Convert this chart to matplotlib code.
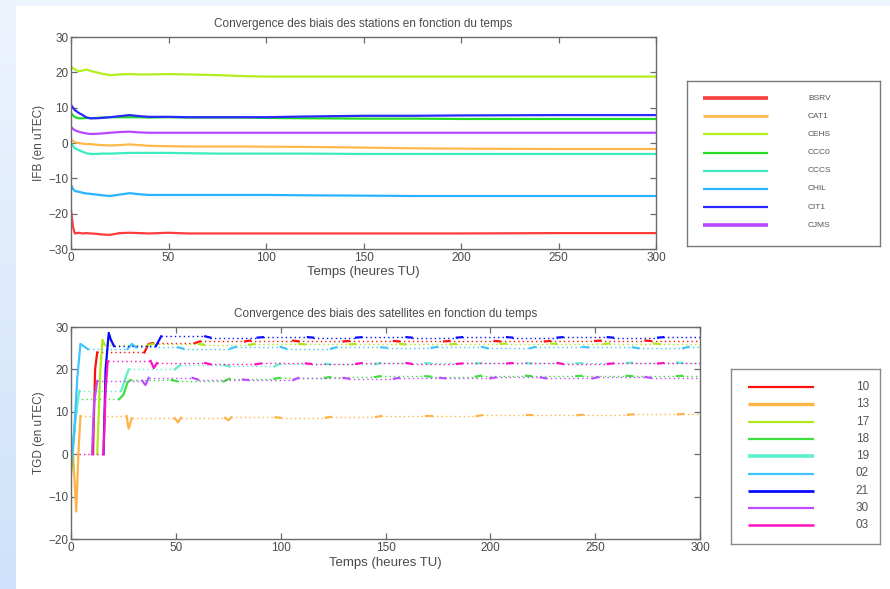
import matplotlib
matplotlib.use("Agg")
import matplotlib.pyplot as plt
import numpy as np

plt.rcParams['font.family'] = ['Liberation Sans', 'DejaVu Sans']

# --- station biases (IFB, en uTEC) ---
t_sta = [0, 1, 2, 4, 6, 8, 10, 13, 16, 20, 25, 30, 35, 40, 50, 60, 75, 90, 100, 120, 150, 175, 200, 250, 300]
stations = ['BSRV', 'CAT1', 'CEHS', 'CCC0', 'CCCS', 'CHIL', 'CIT1', 'CJMS']
sta_colors = ['#ff3c3c', '#ffb84a', '#b4ee1e', '#22dd22', '#3cecc0', '#28b4ff', '#2a2aff', '#b848ff']
sta_legend_lw = [2.6, 2.0, 1.6, 1.6, 1.6, 1.6, 1.6, 2.6]
ifb = {
    'BSRV': [-19, -23.7, -25.6, -25.4, -25.6, -25.5, -25.6, -25.7, -25.9, -26.0, -25.5, -25.4, -25.5, -25.6, -25.4, -25.6, -25.6, -25.6, -25.6, -25.6, -25.6, -25.6, -25.6, -25.5, -25.5],
    'CAT1': [1.0, 0.6, 0.2, 0.0, -0.2, -0.3, -0.3, -0.5, -0.6, -0.7, -0.6, -0.4, -0.6, -0.8, -0.9, -1.0, -1.0, -1.0, -1.05, -1.1, -1.3, -1.5, -1.6, -1.7, -1.7],
    'CEHS': [21.6, 21.2, 20.8, 20.3, 20.5, 20.8, 20.4, 20.0, 19.6, 19.2, 19.4, 19.5, 19.4, 19.4, 19.5, 19.4, 19.2, 18.9, 18.8, 18.8, 18.8, 18.8, 18.8, 18.8, 18.8],
    'CCC0': [8.5, 7.8, 7.3, 7.0, 7.0, 7.1, 7.0, 7.1, 7.2, 7.3, 7.3, 7.3, 7.3, 7.2, 7.3, 7.2, 7.2, 7.2, 7.1, 7.0, 6.9, 6.9, 6.8, 6.8, 6.8],
    'CCCS': [0.0, -0.8, -1.5, -2.0, -2.5, -2.9, -3.1, -3.1, -3.0, -3.0, -2.9, -2.8, -2.8, -2.8, -2.8, -2.9, -3.0, -3.0, -3.0, -3.0, -3.1, -3.1, -3.1, -3.1, -3.1],
    'CHIL': [-11.9, -13.0, -13.6, -13.8, -14.1, -14.3, -14.4, -14.6, -14.8, -15.0, -14.6, -14.2, -14.5, -14.7, -14.7, -14.7, -14.7, -14.7, -14.7, -14.8, -14.9, -15.0, -15.0, -15.0, -15.0],
    'CIT1': [10.8, 10.0, 9.3, 8.5, 7.9, 7.2, 7.0, 7.0, 7.1, 7.3, 7.6, 7.9, 7.6, 7.4, 7.4, 7.3, 7.3, 7.3, 7.3, 7.5, 7.7, 7.7, 7.8, 7.9, 7.9],
    'CJMS': [4.6, 4.0, 3.6, 3.2, 2.9, 2.7, 2.55, 2.6, 2.7, 2.9, 3.1, 3.2, 3.0, 2.9, 2.9, 2.9, 2.9, 2.9, 2.9, 2.9, 2.9, 2.9, 2.9, 2.9, 2.9],
}

# --- satellite biases (TGD, en uTEC): observed points, gaps > 3 h are dotted ---
satellites = ['10', '13', '17', '18', '19', '02', '21', '30', '03']
sat_colors = ['#ff1010', '#ffb347', '#aee81a', '#3ee03e', '#5cf0cc', '#40c4ff', '#0a0aff', '#c04cff', '#ff10c0']
sat_legend_lw = [1.6, 2.4, 1.6, 1.6, 2.6, 1.6, 2.0, 1.6, 1.8]
tgd_t = {
    '10': [10.5, 11.5, 12.5, 35, 37, 39, 59, 61.5, 83, 85.5, 106, 108.5, 130, 132.5, 154, 156.5, 178, 180.5, 202, 204.5, 226, 228.5, 250, 252.5, 274, 276.5, 300],
    '13': [1, 2.5, 3.5, 4.5, 26.5, 27.5, 29, 49.5, 51, 52.5, 73.5, 75, 76.5, 97.5, 100, 121.5, 124, 145.5, 148, 169.5, 172, 193.5, 196, 217.5, 220, 241.5, 244, 265.5, 268, 289.5, 292, 300],
    '17': [12.5, 14, 15, 16, 37, 39.5, 61, 63.5, 85, 87.5, 109, 111.5, 133, 135.5, 157, 159.5, 181, 183.5, 205, 207.5, 229, 231.5, 254, 256.5, 278, 280.5, 300],
    '18': [0, 1.5, 3, 23, 25, 27, 28.5, 48, 50.5, 73, 75.5, 97, 99.5, 121, 123.5, 145, 147.5, 169, 171.5, 193, 195.5, 217, 219.5, 241, 243.5, 265, 267.5, 289, 291.5, 300],
    '19': [0.5, 2, 4, 24, 26, 27.5, 49.5, 52, 73, 75.5, 97, 99.5, 121, 123.5, 145, 147.5, 169, 171.5, 193, 195.5, 217, 219.5, 241, 243.5, 265, 267.5, 289, 291.5, 300],
    '02': [0, 1.5, 3, 4.5, 6, 8, 27, 29, 31, 51, 53.5, 76, 78.5, 100, 102.5, 124, 126.5, 148, 150.5, 172, 174.5, 196, 198.5, 219, 221.5, 244, 246.5, 268, 270.5, 292, 294.5, 300],
    '21': [15.5, 16.5, 18, 19, 20.5, 40.5, 43, 64, 66.5, 89, 91.5, 113, 115.5, 136, 138.5, 160, 162.5, 184, 186.5, 208, 210.5, 232, 234.5, 256, 258.5, 280, 282.5, 300],
    '30': [10, 11, 12.5, 34, 35.5, 37, 58, 60.5, 82, 84.5, 106, 108.5, 130, 132.5, 154, 156.5, 176, 178.5, 200, 202.5, 224, 226.5, 249, 251.5, 274, 276.5, 300],
    '03': [4, 15.5, 16.5, 17.5, 38, 39.5, 41, 64, 66.5, 88, 90.5, 112, 114.5, 136, 138.5, 160, 162.5, 184, 186.5, 208, 210.5, 232, 234.5, 256, 258.5, 280, 282.5, 300],
}
tgd_v = {
    '10': [0, 20, 24, 24, 26, 26.2, 26.2, 26.6, 26.6, 26.8, 26.8, 26.6, 26.6, 26.7, 26.7, 26.6, 26.6, 26.7, 26.7, 26.6, 26.6, 26.7, 26.7, 26.8, 26.8, 26.7, 26.7],
    '13': [0, -13.5, 0, 9, 9, 6, 8.5, 8.5, 7.5, 8.6, 8.6, 8.0, 8.7, 8.7, 8.6, 8.6, 8.8, 8.8, 9.0, 9.0, 9.0, 9.0, 9.2, 9.2, 9.2, 9.2, 9.3, 9.3, 9.4, 9.4, 9.5, 9.5],
    '17': [0, 20, 27, 25.8, 25.8, 26.0, 26.0, 25.8, 25.8, 26.0, 26.0, 25.9, 25.9, 26.0, 26.0, 25.9, 25.9, 26.0, 26.0, 26.1, 26.1, 26.0, 26.0, 26.1, 26.1, 26.0, 26.0],
    '18': [-5, 5, 13, 13, 14, 17, 17.5, 17.5, 17.2, 17.2, 17.8, 17.8, 18.0, 18.0, 18.2, 18.2, 18.4, 18.4, 18.3, 18.3, 18.5, 18.5, 18.4, 18.4, 18.5, 18.5, 18.4, 18.4, 18.5, 18.5],
    '19': [0, 8, 15, 15, 18, 20, 20, 21, 21, 20.7, 20.7, 21.3, 21.3, 21.2, 21.2, 21.5, 21.5, 21.4, 21.4, 21.5, 21.5, 21.4, 21.4, 21.5, 21.5, 21.6, 21.6, 21.5, 21.5],
    '02': [-3, 5, 18, 26, 25.5, 24.8, 24.8, 26, 25.2, 25.2, 24.9, 24.9, 25.3, 25.3, 24.9, 24.9, 25.2, 25.2, 25.1, 25.1, 25.3, 25.3, 25.0, 25.0, 25.3, 25.3, 25.2, 25.2, 25.0, 25.0, 25.3, 25.3],
    '21': [0, 20, 28.6, 27, 25.5, 25.5, 27.8, 27.8, 27.5, 27.5, 27.6, 27.6, 27.5, 27.5, 27.6, 27.6, 27.5, 27.5, 27.6, 27.6, 27.5, 27.5, 27.6, 27.6, 27.5, 27.5, 27.6, 27.6],
    '30': [0, 12, 17.3, 17.3, 16.3, 18.0, 18.0, 17.6, 17.6, 17.5, 17.5, 18.0, 18.0, 17.8, 17.8, 18.0, 18.0, 17.9, 17.9, 18.1, 18.1, 17.9, 17.9, 18.2, 18.2, 18.0, 18.0],
    '03': [0, 0, 15, 22, 22, 20.3, 21.5, 21.5, 21.2, 21.2, 21.4, 21.4, 21.3, 21.3, 21.5, 21.5, 21.3, 21.3, 21.4, 21.4, 21.5, 21.5, 21.3, 21.3, 21.4, 21.4, 21.5, 21.5],
}

W, H = 890, 589
fig = plt.figure(figsize=(W / 100, H / 100), dpi=100)
fig.patch.set_facecolor('white')

# light blue slide background (left strip + top strip)
bg = fig.add_axes([0, 0, 16 / W, 1])
grad = np.linspace(0, 1, 256).reshape(-1, 1)
bg.imshow(grad, aspect='auto', cmap=matplotlib.colors.LinearSegmentedColormap.from_list('bg', ['#eef4fe', '#cde2fa']))
bg.axis('off')
top = fig.add_axes([16 / W, 1 - 6 / H, 1 - 16 / W, 6 / H])
top.axis('off')
top.add_patch(plt.Rectangle((0, 0), 1, 1, color='#eef4fe', transform=top.transAxes))

TXT = '#4a4a4a'


def style_axes(ax):
    for s in ax.spines.values():
        s.set_color('#6a6a6a')
        s.set_linewidth(1.0)
    ax.tick_params(direction='in', length=4, width=0.9, colors='#6a6a6a',
                   labelcolor=TXT, labelsize=8.5, top=True, right=True, pad=2)


def fig_box(x0, y0, x1, y1):
    return [x0 / W, 1 - y1 / H, (x1 - x0) / W, (y1 - y0) / H]


# ---------------- top: stations ----------------
ax1 = fig.add_axes(fig_box(71, 37, 656, 249))
for name, c in zip(stations, sta_colors):
    ax1.plot(t_sta, ifb[name], color=c, lw=1.6)
ax1.set_xlim(0, 300)
ax1.set_ylim(-30, 30)
ax1.set_xticks(range(0, 301, 50))
ax1.set_yticks(range(-30, 31, 10))
style_axes(ax1)
ax1.set_title('Convergence des biais des stations en fonction du temps', fontsize=8.5, color=TXT, pad=7)
ax1.set_xlabel('Temps (heures TU)', fontsize=9.5, color=TXT, labelpad=1.5)
ax1.set_ylabel('IFB (en uTEC)', fontsize=8.5, color=TXT, labelpad=2)

leg1 = fig.add_axes(fig_box(687, 81, 880, 246))
leg1.set_xlim(687, 880)
leg1.set_ylim(246, 81)
leg1.set_xticks([])
leg1.set_yticks([])
for s in leg1.spines.values():
    s.set_color('#7a7a7a')
    s.set_linewidth(1.0)
for i, (name, c, lw) in enumerate(zip(stations, sta_colors, sta_legend_lw)):
    y = 98 + i * 18.2
    leg1.plot([703, 768], [y, y], color=c, lw=lw, solid_capstyle='butt')
    leg1.text(808, y, name, fontsize=6, color='#555555', va='center', ha='left')

# ---------------- bottom: satellites ----------------
ax2 = fig.add_axes(fig_box(71, 327, 700, 539))
for name, c in zip(satellites, sat_colors):
    t = tgd_t[name]
    v = tgd_v[name]
    runs = [[0]]
    for k in range(1, len(t)):
        if t[k] - t[k - 1] > 3:
            runs.append([k])
        else:
            runs[-1].append(k)
    for r in runs:
        if len(r) > 1:
            ax2.plot([t[k] for k in r], [v[k] for k in r], color=c, lw=1.6)
    for a, b in zip(runs[:-1], runs[1:]):
        ax2.plot([t[a[-1]], t[b[0]]], [v[a[-1]], v[b[0]]], color=c, lw=1.0,
                 ls=(0, (1, 2.2)))
ax2.set_xlim(0, 300)
ax2.set_ylim(-20, 30)
ax2.set_xticks(range(0, 301, 50))
ax2.set_yticks(range(-20, 31, 10))
style_axes(ax2)
ax2.set_title('Convergence des biais des satellites en fonction du temps', fontsize=8.5, color=TXT, pad=7)
ax2.set_xlabel('Temps (heures TU)', fontsize=9.5, color=TXT, labelpad=2.5)
ax2.set_ylabel('TGD (en uTEC)', fontsize=8.5, color=TXT, labelpad=2)

leg2 = fig.add_axes(fig_box(731, 369, 880, 544))
leg2.set_xlim(731, 880)
leg2.set_ylim(544, 369)
leg2.set_xticks([])
leg2.set_yticks([])
for s in leg2.spines.values():
    s.set_color('#8a8a8a')
    s.set_linewidth(1.0)
for i, (name, c, lw) in enumerate(zip(satellites, sat_colors, sat_legend_lw)):
    y = 387 + i * 17.3
    leg2.plot([748, 814], [y, y], color=c, lw=lw, solid_capstyle='butt')
    leg2.text(869, y, name, fontsize=8.5, color='#555555', va='center', ha='right')

fig.savefig('out.png', dpi=100)
